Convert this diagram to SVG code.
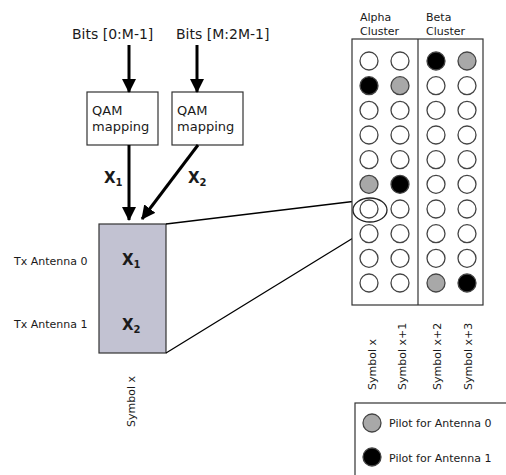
<svg xmlns="http://www.w3.org/2000/svg" width="506" height="475" viewBox="0 0 506 475">
<defs>
<style>
text{font-family:"DejaVu Sans","Verdana",sans-serif;fill:#1a1a1a}
.t11{font-size:11px}
.t13{font-size:13px}
.t14{font-size:14px}
.bx{font-size:15px;font-weight:bold}
.sub{font-size:10px;font-weight:bold}
.box{fill:#fff;stroke:#333;stroke-width:1.2}
.arr{stroke:#000;stroke-width:3;fill:none;marker-end:url(#ah)}
.zl{stroke:#000;stroke-width:1.3;fill:none}
.c{stroke:#444;stroke-width:1.3;fill:#fff}
.g{fill:#a8a8a8}
.k{fill:#000}
</style>
<marker id="ah" markerUnits="userSpaceOnUse" markerWidth="14" markerHeight="14" viewBox="0 0 14 14" refX="13" refY="7" orient="auto">
<path d="M0,0 L14,7 L0,14 Z" fill="#000"/>
</marker>
</defs>

<g id="bits0"><text class="t14" x="72" y="39">Bits [0:M-1]</text></g>
<g id="bits1"><text class="t14" x="176" y="39">Bits [M:2M-1]</text></g>

<g id="qam0">
<rect class="box" x="87" y="92" width="71" height="53"/>
<text class="t13" x="92" y="115">QAM</text>
<text class="t13" x="92" y="131">mapping</text>
</g>
<g id="qam1">
<rect class="box" x="172" y="92" width="71" height="53"/>
<text class="t13" x="177" y="115">QAM</text>
<text class="t13" x="177" y="131">mapping</text>
</g>

<g id="symbolx">
<rect x="99" y="224" width="67" height="129" fill="#c2c2d2" stroke="#333" stroke-width="1.2"/>
<text class="bx" x="122" y="265">X<tspan class="sub" dy="3">1</tspan></text>
<text class="bx" x="122" y="330">X<tspan class="sub" dy="3">2</tspan></text>
</g>

<g id="labels">
<text class="t11" x="14" y="265">Tx Antenna 0</text>
<text class="t11" x="14" y="328">Tx Antenna 1</text>
<text class="t11" transform="translate(135,427) rotate(-90)">Symbol x</text>
<text class="bx" x="104" y="183">X<tspan class="sub" dy="3">1</tspan></text>
<text class="bx" x="188" y="183">X<tspan class="sub" dy="3">2</tspan></text>
</g>

<g id="connectors">
<line class="arr" x1="129" y1="45" x2="129" y2="92"/>
<line class="arr" x1="197" y1="45" x2="197" y2="92"/>
<line class="arr" x1="129" y1="145" x2="129" y2="220"/>
<line class="arr" x1="198" y1="145" x2="142" y2="219"/>
<line class="zl" x1="166" y1="224" x2="357" y2="201"/>
<line class="zl" x1="166" y1="353" x2="384" y2="219"/>
</g>

<g id="clusters">
<text class="t11" x="360" y="21">Alpha</text>
<text class="t11" x="360" y="35">Cluster</text>
<text class="t11" x="426" y="21">Beta</text>
<text class="t11" x="426" y="35">Cluster</text>
<rect class="box" x="352" y="39" width="131" height="266"/>
<line x1="418" y1="39" x2="418" y2="305" stroke="#333" stroke-width="1.2"/>
</g>

<g id="grid">
<g id="col0">
<circle class="c" cx="369" cy="61" r="9"/>
<circle class="c k" cx="369" cy="85.7" r="9"/>
<circle class="c" cx="369" cy="110.3" r="9"/>
<circle class="c" cx="369" cy="135" r="9"/>
<circle class="c" cx="369" cy="159.7" r="9"/>
<circle class="c g" cx="369" cy="184.3" r="9"/>
<circle class="c" cx="369" cy="209" r="9"/>
<circle class="c" cx="369" cy="233.7" r="9"/>
<circle class="c" cx="369" cy="258.3" r="9"/>
<circle class="c" cx="369" cy="283" r="9"/>
</g>
<g id="col1">
<circle class="c" cx="400" cy="61" r="9"/>
<circle class="c g" cx="400" cy="85.7" r="9"/>
<circle class="c" cx="400" cy="110.3" r="9"/>
<circle class="c" cx="400" cy="135" r="9"/>
<circle class="c" cx="400" cy="159.7" r="9"/>
<circle class="c k" cx="400" cy="184.3" r="9"/>
<circle class="c" cx="400" cy="209" r="9"/>
<circle class="c" cx="400" cy="233.7" r="9"/>
<circle class="c" cx="400" cy="258.3" r="9"/>
<circle class="c" cx="400" cy="283" r="9"/>
</g>
<g id="col2">
<circle class="c k" cx="436" cy="61" r="9"/>
<circle class="c" cx="436" cy="85.7" r="9"/>
<circle class="c" cx="436" cy="110.3" r="9"/>
<circle class="c" cx="436" cy="135" r="9"/>
<circle class="c" cx="436" cy="159.7" r="9"/>
<circle class="c" cx="436" cy="184.3" r="9"/>
<circle class="c" cx="436" cy="209" r="9"/>
<circle class="c" cx="436" cy="233.7" r="9"/>
<circle class="c" cx="436" cy="258.3" r="9"/>
<circle class="c g" cx="436" cy="283" r="9"/>
</g>
<g id="col3">
<circle class="c g" cx="467" cy="61" r="9"/>
<circle class="c" cx="467" cy="85.7" r="9"/>
<circle class="c" cx="467" cy="110.3" r="9"/>
<circle class="c" cx="467" cy="135" r="9"/>
<circle class="c" cx="467" cy="159.7" r="9"/>
<circle class="c" cx="467" cy="184.3" r="9"/>
<circle class="c" cx="467" cy="209" r="9"/>
<circle class="c" cx="467" cy="233.7" r="9"/>
<circle class="c" cx="467" cy="258.3" r="9"/>
<circle class="c k" cx="467" cy="283" r="9"/>
</g>
<ellipse id="highlight" cx="370" cy="210" rx="17" ry="12" fill="none" stroke="#222" stroke-width="1.3"/>
</g>

<g id="symlabels">
<text class="t11" transform="translate(376,390) rotate(-90)">Symbol x</text>
<text class="t11" transform="translate(406,390) rotate(-90)">Symbol x+1</text>
<text class="t11" transform="translate(441,390) rotate(-90)">Symbol x+2</text>
<text class="t11" transform="translate(472,390) rotate(-90)">Symbol x+3</text>
</g>

<g id="legend">
<rect class="box" x="355" y="403" width="160" height="80"/>
<circle class="c g" cx="372" cy="423" r="9"/>
<text class="t11" x="389" y="427">Pilot for Antenna 0</text>
<circle class="c k" cx="372" cy="457" r="9"/>
<text class="t11" x="389" y="462">Pilot for Antenna 1</text>
</g>
</svg>
